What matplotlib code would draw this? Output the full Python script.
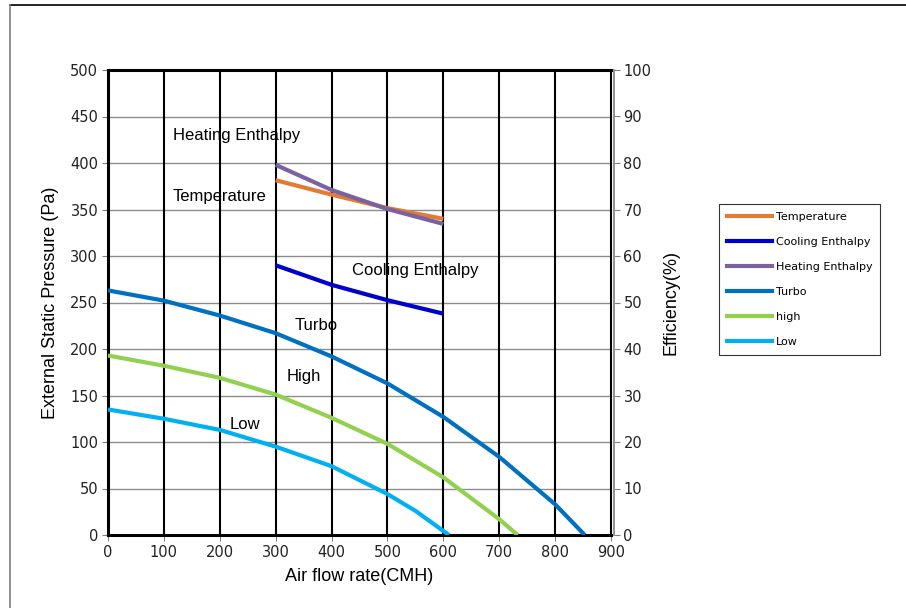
import matplotlib
matplotlib.use("Agg")
import matplotlib.pyplot as plt
from matplotlib.lines import Line2D

plt.rcParams['font.family'] = ['Liberation Sans', 'DejaVu Sans']

# Fan curves (left axis, Pa)
turbo_x = [0, 100, 200, 300, 400, 500, 600, 700, 800, 853]
turbo_y = [263, 252, 236, 217, 192, 163, 127, 84, 33, 0]
high_x = [0, 100, 200, 300, 400, 500, 600, 700, 733]
high_y = [193, 182, 169, 151, 126, 98, 62, 17, 0]
low_x = [0, 100, 200, 300, 400, 500, 550, 610]
low_y = [135, 125, 113, 95, 74, 44, 26, 0]

# Efficiency curves (right axis, %)
eff_x = [300, 400, 500, 600]
temperature = [76.3, 73.2, 70.3, 68.0]
cooling = [58.0, 53.8, 50.5, 47.6]
heating = [79.6, 74.2, 70.1, 66.9]

x_ticks = [0, 100, 200, 300, 400, 500, 600, 700, 800, 900]
y_ticks = [0, 50, 100, 150, 200, 250, 300, 350, 400, 450, 500]
y2_ticks = [0, 10, 20, 30, 40, 50, 60, 70, 80, 90, 100]

c_temp = '#E47B34'
c_cool = '#0000CC'
c_heat = '#7A62A0'
c_turbo = '#0070C0'
c_high = '#92D050'
c_low = '#00B0F0'

W, H = 906, 608
fig = plt.figure(figsize=(W / 100, H / 100), dpi=100)
L, R, T, B = 108, 611, 70, 535
ax = fig.add_axes([L / W, 1 - B / H, (R - L) / W, (B - T) / H])

# outer frame
fig.add_artist(Line2D([10 / W, 1.0], [1 - 5 / H, 1 - 5 / H], color='black', lw=1.2, transform=fig.transFigure))
fig.add_artist(Line2D([10 / W, 10 / W], [0, 1 - 5 / H], color='#808080', lw=1.2, transform=fig.transFigure))

ax.set_xlim(0, 900)
ax.set_ylim(0, 500)
ax.set_xticks(x_ticks)
ax.set_yticks(y_ticks)
for y in y_ticks[1:-1]:
    ax.axhline(y, color='#8c8c8c', lw=1.0, zorder=1)
for x in x_ticks[1:-1]:
    ax.axvline(x, color='black', lw=1.5, zorder=1)

ax.plot(turbo_x, turbo_y, color=c_turbo, lw=3, solid_capstyle='butt', zorder=3)
ax.plot(high_x, high_y, color=c_high, lw=3, solid_capstyle='butt', zorder=3)
ax.plot(low_x, low_y, color=c_low, lw=3, solid_capstyle='butt', zorder=3)

for side in ['left', 'top', 'bottom']:
    ax.spines[side].set_linewidth(2.2)
    ax.spines[side].set_color('black')
ax.spines['right'].set_linewidth(1.5)
ax.spines['right'].set_color('black')
ax.tick_params(axis='both', direction='out', length=4, width=0.8, color='#808080',
               labelsize=10.5, pad=3, labelcolor='#222222')
for lab in ax.get_xticklabels() + ax.get_yticklabels():
    lab.set_family('DejaVu Sans')

ax2 = ax.twinx()
ax2.set_ylim(0, 100)
ax2.set_yticks(y2_ticks)
ax2.spines['right'].set_position(('outward', 2))
ax2.spines['right'].set_color('#808080')
ax2.spines['right'].set_linewidth(1.2)
for side in ['left', 'top', 'bottom']:
    ax2.spines[side].set_visible(False)
ax2.tick_params(axis='y', direction='out', length=4, width=0.8, color='#808080',
                labelsize=10.5, pad=3, labelcolor='#222222')
for lab in ax2.get_yticklabels():
    lab.set_family('DejaVu Sans')

ax2.plot(eff_x, temperature, color=c_temp, lw=3, solid_capstyle='butt', zorder=3)
ax2.plot(eff_x, cooling, color=c_cool, lw=3, solid_capstyle='butt', zorder=3)
ax2.plot(eff_x, heating, color=c_heat, lw=3, solid_capstyle='butt', zorder=3)

ax.set_xlabel('Air flow rate(CMH)', fontsize=13, labelpad=6)
ax.set_ylabel('External Static Pressure (Pa)', fontsize=13, labelpad=8)
ax2.set_ylabel('Efficiency(%)', fontsize=13, labelpad=8)

ax.text(116, 430, 'Heating Enthalpy', fontsize=12, va='center', ha='left', zorder=4)
ax.text(116, 364, 'Temperature', fontsize=12, va='center', ha='left', zorder=4)
ax.text(436, 284, 'Cooling Enthalpy', fontsize=12, va='center', ha='left', zorder=4)
ax.text(334, 225, 'Turbo', fontsize=12, va='center', ha='left', zorder=4)
ax.text(320, 170, 'High', fontsize=12, va='center', ha='left', zorder=4)
ax.text(218, 119, 'Low', fontsize=12, va='center', ha='left', zorder=4)

handles = [
    Line2D([], [], color=c_temp, lw=3, label='Temperature'),
    Line2D([], [], color=c_cool, lw=3, label='Cooling Enthalpy'),
    Line2D([], [], color=c_heat, lw=3, label='Heating Enthalpy'),
    Line2D([], [], color=c_turbo, lw=3, label='Turbo'),
    Line2D([], [], color=c_high, lw=3, label='high'),
    Line2D([], [], color=c_low, lw=3, label='Low'),
]
leg = fig.legend(handles=handles, loc='upper left', bbox_to_anchor=(719 / W, 1 - 204 / H),
                 prop={'family': 'DejaVu Sans', 'size': 8}, frameon=True, fancybox=False,
                 edgecolor='black', handlelength=4.1, handletextpad=0.3, labelspacing=1.35,
                 borderpad=0.7, borderaxespad=0)
leg.get_frame().set_linewidth(0.8)

fig.savefig('out.png', dpi=100)
